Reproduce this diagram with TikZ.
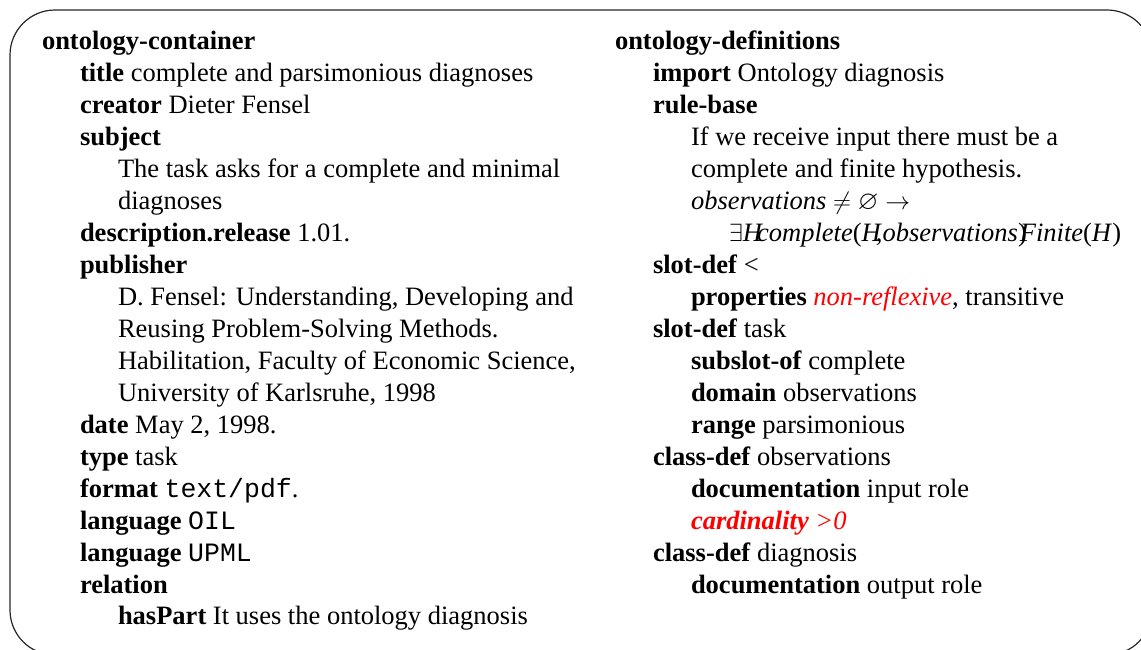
\documentclass[tikz,border=0pt]{standalone}
\usepackage{amssymb}
\usepackage{fontspec}
\setmainfont{Liberation Serif}
\setmonofont{Liberation Mono}
\definecolor{hlred}{RGB}{255,0,0}
\tikzset{
  txt/.style={anchor=base west, inner sep=0pt, outer sep=0pt, font=\fontsize{26.5}{32}\selectfont},
  frame/.style={draw=black!85, line width=1.2pt, rounded corners=45pt}
}
\begin{document}
\begin{tikzpicture}[x=1pt,y=-1pt]
\useasboundingbox (0,0) rectangle (1141,649);
\clip (0,0) rectangle (1141,649);
\draw[frame] (10,10) rectangle (1152,655);
% left column
\node[txt] (l1)  at (42,49)  {\textbf{ontology-container}};
\node[txt] (l2)  at (80,81)  {\textbf{title} complete and parsimonious diagnoses};
\node[txt] (l3)  at (80,113) {\textbf{creator} Dieter Fensel};
\node[txt] (l4)  at (80,145) {\textbf{subject}};
\node[txt] (l5)  at (118,177) {The task asks for a complete and minimal};
\node[txt] (l6)  at (118,209) {diagnoses};
\node[txt] (l7)  at (80,241) {\textbf{description.release} 1.01.};
\node[txt] (l8)  at (80,273) {\textbf{publisher}};
\node[txt] (l9)  at (118,305) {D. Fensel: Understanding, Developing and};
\node[txt] (l10) at (118,337) {Reusing Problem-Solving Methods.};
\node[txt] (l11) at (118,369) {Habilitation, Faculty of Economic Science,};
\node[txt] (l12) at (118,401) {University of Karlsruhe, 1998};
\node[txt] (l13) at (80,433) {\textbf{date} May 2, 1998.};
\node[txt] (l14) at (80,465) {\textbf{type} task};
\node[txt] (l15) at (80,497) {\textbf{format} \texttt{text/pdf}.};
\node[txt] (l16) at (80,529) {\textbf{language} \texttt{OIL}};
\node[txt] (l17) at (80,561) {\textbf{language} \texttt{UPML}};
\node[txt] (l18) at (80,593) {\textbf{relation}};
\node[txt] (l19) at (118,624) {\textbf{hasPart} It uses the ontology diagnosis};
% right column
\node[txt] (r1)  at (615,49)  {\textbf{ontology-definitions}};
\node[txt] (r2)  at (653,81)  {\textbf{import} Ontology diagnosis};
\node[txt] (r3)  at (653,113) {\textbf{rule-base}};
\node[txt] (r4)  at (691,145) {If we receive input there must be a};
\node[txt] (r5)  at (691,177) {complete and finite hypothesis.};
\node[txt] (r6)  at (691,209) {\textit{observations} $\neq\varnothing\rightarrow$};
\node[txt] (r7)  at (729,241) {$\exists$\textit{H}\kern-6pt\textit{complete}(\textit{H}\kern-6pt,\textit{observations})\kern-7pt\textit{Finite}(\textit{H})};
\node[txt] (r8)  at (653,273) {\textbf{slot-def} <};
\node[txt] (r9)  at (691,305) {\textbf{properties} \textcolor{hlred}{\textit{non-reflexive}}, transitive};
\node[txt] (r10) at (653,337) {\textbf{slot-def} task};
\node[txt] (r11) at (691,369) {\textbf{subslot-of} complete};
\node[txt] (r12) at (691,401) {\textbf{domain} observations};
\node[txt] (r13) at (691,433) {\textbf{range} parsimonious};
\node[txt] (r14) at (653,465) {\textbf{class-def} observations};
\node[txt] (r15) at (691,497) {\textbf{documentation} input role};
\node[txt] (r16) at (691,529) {\textcolor{hlred}{\textbf{\textit{cardinality}} \textit{>0}}};
\node[txt] (r17) at (653,561) {\textbf{class-def} diagnosis};
\node[txt] (r18) at (691,593) {\textbf{documentation} output role};
\end{tikzpicture}
\end{document}
